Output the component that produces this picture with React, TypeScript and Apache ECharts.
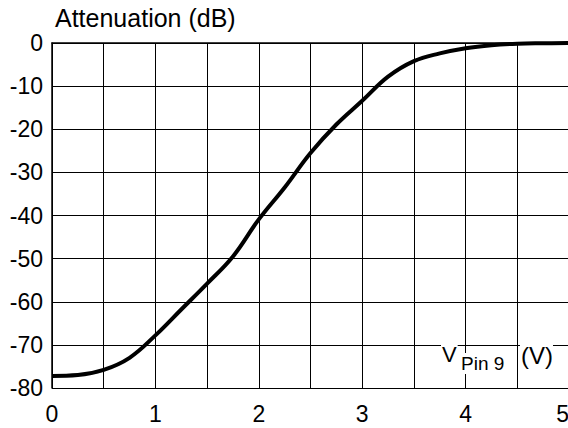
import React, { useEffect, useRef } from "react";
import * as echarts from "echarts";

const voltage = [0, 0.25, 0.5, 0.75, 1.0, 1.25, 1.5, 1.75, 2.0, 2.25, 2.5, 2.75, 3.0, 3.25, 3.5, 3.75, 4.0, 4.25, 4.5, 4.75, 5.0];
const attenuation = [-77.2, -77.0, -75.8, -73.0, -67.8, -61.8, -55.8, -49.5, -40.9, -33.5, -25.5, -18.9, -13.4, -7.8, -4.2, -2.4, -1.2, -0.5, -0.15, -0.05, 0];
const yTicks = { min: -80, max: 0, step: 10 };
const xTicks = { min: 0, max: 5, step: 0.5 };
const yTitle = "Attenuation (dB)";
const xTitleMain = "V";
const xTitleSub = "Pin 9";
const xTitleUnit = "(V)";

const FONT = '"Liberation Sans", Arial, sans-serif';

export default function App() {
  const ref = useRef<HTMLDivElement>(null);
  useEffect(() => {
    if (!ref.current) return;
    const chart = echarts.init(ref.current, undefined, { renderer: "svg" });
    const data = voltage.map((v, i) => [v, attenuation[i]]);
    chart.setOption({
      animation: false,
      backgroundColor: "#fff",
      grid: { left: 52, top: 43, right: 0, bottom: 40 },
      xAxis: {
        type: "value",
        min: xTicks.min,
        max: xTicks.max,
        interval: xTicks.step,
        axisLine: { show: true, lineStyle: { color: "#000", width: 1.5 } },
        axisTick: { show: false },
        splitLine: { show: true, lineStyle: { color: "#000", width: 1 } },
        axisLabel: {
          color: "#000",
          fontSize: 23,
          fontFamily: FONT,
          margin: 14,
          alignMaxLabel: "right",
          formatter: (v: number) => (Number.isInteger(v) ? String(v) : ""),
        },
      },
      yAxis: {
        type: "value",
        min: yTicks.min,
        max: yTicks.max,
        interval: yTicks.step,
        axisLine: { show: true, lineStyle: { color: "#000", width: 1.5 } },
        axisTick: { show: false },
        splitLine: { show: true, lineStyle: { color: "#000", width: 1 } },
        axisLabel: { color: "#000", fontSize: 23, fontFamily: FONT, margin: 9 },
      },
      series: [
        {
          type: "line",
          data,
          smooth: 0.4,
          symbol: "none",
          lineStyle: { color: "#000", width: 4 },
          z: 5,
        },
      ],
      graphic: [
        {
          type: "text",
          left: 55,
          top: 5,
          z: 100,
          style: { text: yTitle, fontSize: 25, fontFamily: FONT, fill: "#000" },
        },
        {
          type: "text",
          x: 441,
          y: 342,
          z: 100,
          style: {
            text: xTitleMain,
            fontSize: 22,
            fontFamily: FONT,
            fill: "#000",
            backgroundColor: "#fff",
            padding: [1, 1, 1, 1],
          },
        },
        {
          type: "text",
          x: 460,
          y: 353,
          z: 100,
          style: {
            text: xTitleSub,
            fontSize: 19,
            fontFamily: FONT,
            fill: "#000",
            backgroundColor: "#fff",
            padding: [1, 1, 1, 1],
          },
        },
        {
          type: "text",
          x: 520,
          y: 342,
          z: 100,
          style: {
            text: xTitleUnit,
            fontSize: 24,
            fontFamily: FONT,
            fill: "#000",
            backgroundColor: "#fff",
            padding: [1, 0, 1, 1],
          },
        },
      ],
    });
    return () => chart.dispose();
  }, []);
  return (
    <div style={{ position: "absolute", left: 0, top: 0, width: 568, height: 428, overflow: "hidden", background: "#fff" }}>
      <div ref={ref} style={{ width: 572, height: 428 }} />
    </div>
  );
}
